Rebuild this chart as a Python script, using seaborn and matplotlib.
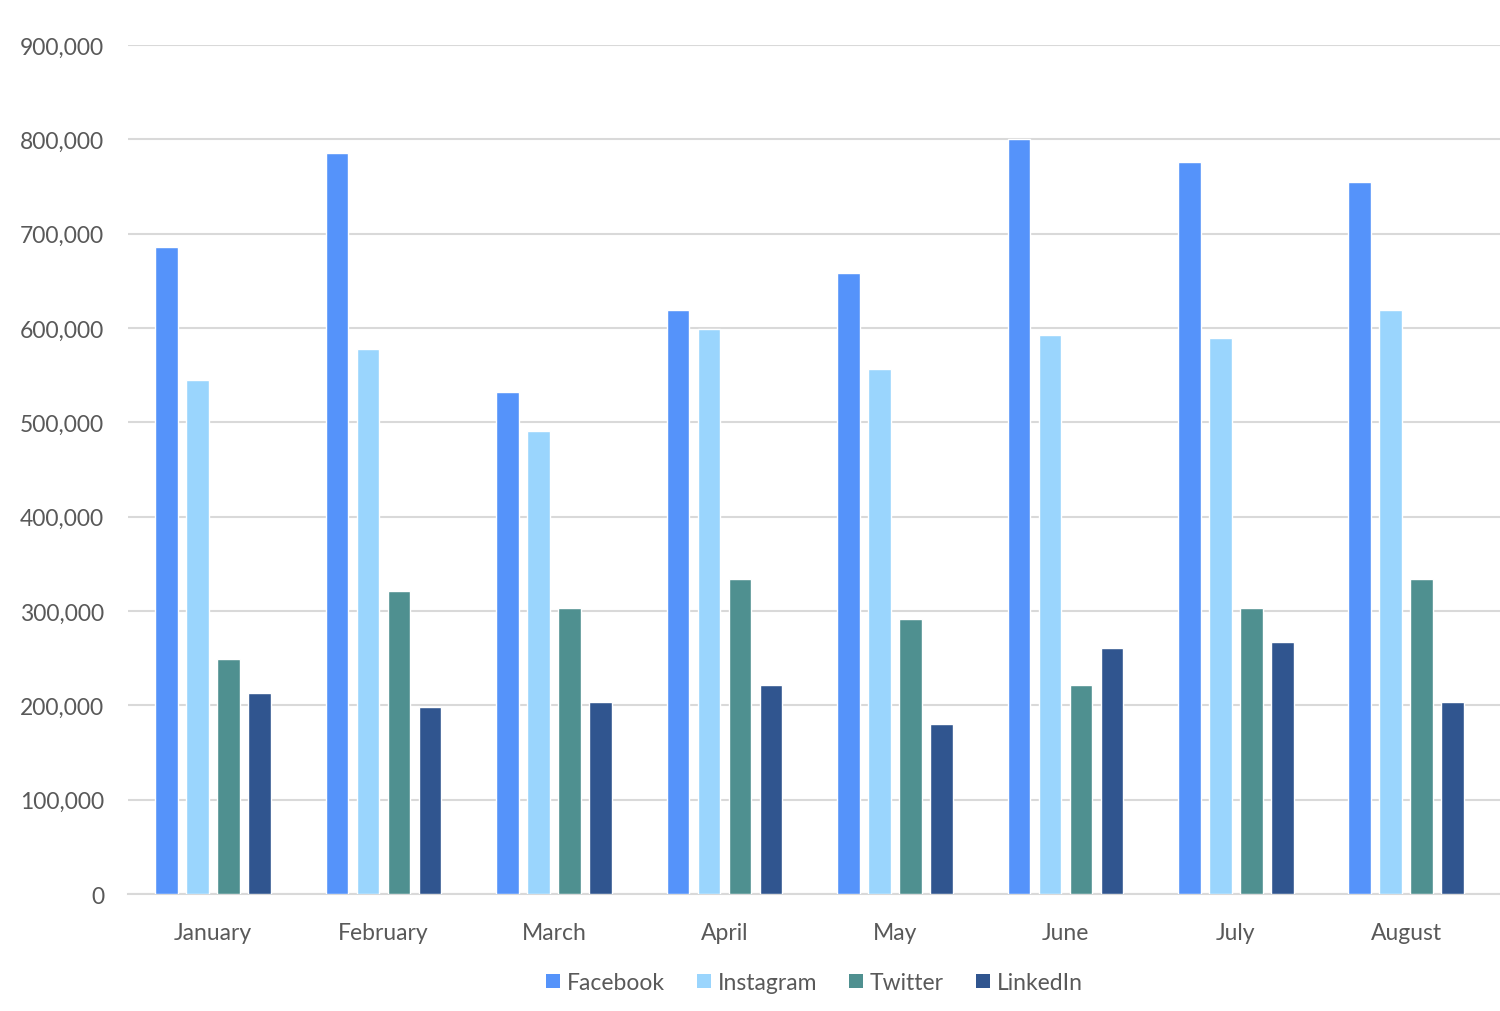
import matplotlib
matplotlib.use("Agg")
import matplotlib.pyplot as plt
import seaborn as sns
import pandas as pd
from matplotlib.ticker import FuncFormatter, MultipleLocator
from matplotlib.patches import Patch

months = ["January", "February", "March", "April", "May", "June", "July", "August"]
facebook = [686000, 786000, 532000, 619000, 658000, 800000, 776000, 755000]
instagram = [545000, 578000, 491000, 599000, 557000, 593000, 589000, 619000]
twitter = [249000, 321000, 303000, 334000, 292000, 222000, 303000, 334000]
linkedin = [213000, 198000, 204000, 222000, 180000, 261000, 267000, 204000]
networks = ["Facebook", "Instagram", "Twitter", "LinkedIn"]
colors = ["#5593FA", "#9AD5FD", "#4F9090", "#30558F"]

rows = []
for name, vals in zip(networks, [facebook, instagram, twitter, linkedin]):
    for m, v in zip(months, vals):
        rows.append({"Month": m, "Network": name, "Value": v})
df = pd.DataFrame(rows)

sns.set_theme(style="white")
plt.rcParams['font.family'] = ['Lato', 'DejaVu Sans']

fig = plt.figure(figsize=(15, 10.12), dpi=100)
ax = fig.add_axes([0.0853, 0.1156, 0.9147, 0.8389])

sns.barplot(data=df, x="Month", y="Value", hue="Network", order=months,
            hue_order=networks, palette=colors, width=0.728, gap=0.27,
            saturation=1, ax=ax, legend=False, zorder=3)

ax.set_ylim(0, 900000)
ax.set_xlim(-0.5, 7.55)
ax.yaxis.set_major_locator(MultipleLocator(100000))
ax.yaxis.set_major_formatter(FuncFormatter(lambda v, p: f"{int(v):,}"))
ax.grid(axis="y", color="#D9D9D9", linewidth=1.5, zorder=0)
ax.set_axisbelow(True)
for s in ["top", "right", "left"]:
    ax.spines[s].set_visible(False)
ax.spines["bottom"].set_color("#D9D9D9")
ax.spines["bottom"].set_linewidth(1.5)
ax.set_xlabel("")
ax.set_ylabel("")
ax.tick_params(axis="y", length=0, pad=17, labelsize=16.5, labelcolor="#595959")
ax.tick_params(axis="x", length=0, pad=20, labelsize=16.5, labelcolor="#595959")

handles = [Patch(facecolor=c, edgecolor="none", label=n) for c, n in zip(colors, networks)]
fig.legend(handles=handles, loc="center", bbox_to_anchor=(0.543, 0.028), ncol=4,
           frameon=False, fontsize=16.5, handlelength=0.6, handleheight=0.6,
           handletextpad=0.3, columnspacing=1.4, labelcolor="#595959")

fig.savefig("out.png", dpi=100, facecolor="white")
